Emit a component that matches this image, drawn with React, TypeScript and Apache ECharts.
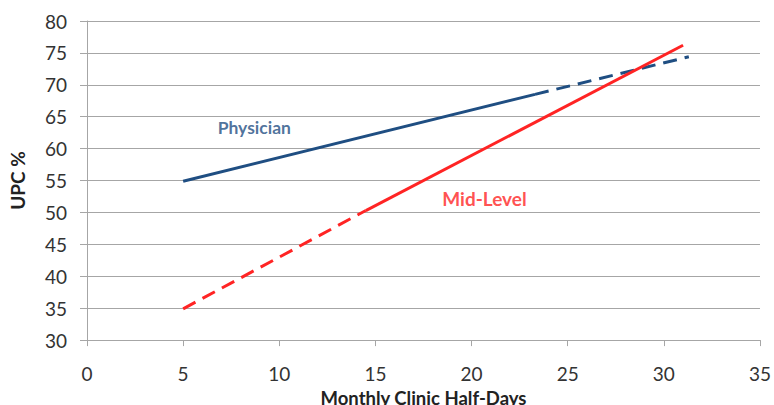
import React, { useEffect, useRef } from "react";
import * as echarts from "echarts";

// Monthly clinic half-days (x) vs UPC % (y)
const physicianSolidX = [5, 23.3];
const physicianSolidY = [54.9, 68.5];
const physicianDashX = [23.3, 31.3];
const physicianDashY = [68.5, 74.4];

const midLevelDashX = [5, 14.5];
const midLevelDashY = [34.9, 50.3];
const midLevelSolidX = [14.5, 31];
const midLevelSolidY = [50.3, 76.2];

const labelNames = ["Physician", "Mid-Level"];
const labelX = [8.7, 20.67];
const labelY = [63.3, 52.2];

const BLUE = "#1F4E82";
const RED = "#FF2424";
const FONT = "Lato, 'Open Sans', sans-serif";

const pairs = (xs: number[], ys: number[]) => xs.map((x, i) => [x, ys[i]]);

export default function App() {
  const ref = useRef<HTMLDivElement>(null);

  useEffect(() => {
    if (!ref.current) return;
    const chart = echarts.init(ref.current, undefined, { renderer: "svg" });

    const lineSeries = (data: number[][], color: string, dashed: boolean) => ({
      type: "line",
      data,
      symbol: "none",
      silent: true,
      lineStyle: { color, width: 3, type: dashed ? [14, 8] : "solid", cap: "butt" },
    });

    chart.setOption({
      animation: false,
      grid: { left: 86, right: 9, top: 21, bottom: 68 },
      xAxis: {
        type: "value",
        min: 0,
        max: 35,
        interval: 5,
        name: "Monthly Clinic Half-Days",
        nameLocation: "middle",
        nameGap: 42,
        nameTextStyle: { fontFamily: FONT, fontWeight: "bold", fontSize: 18.5, color: "#222" },
        axisLine: { show: true, lineStyle: { color: "#A6A6A6", width: 1 } },
        axisTick: { show: true, length: 6, lineStyle: { color: "#A6A6A6" } },
        axisLabel: { margin: 24, fontFamily: FONT, fontSize: 19, color: "#333" },
        splitLine: { show: false },
      },
      yAxis: {
        type: "value",
        min: 30,
        max: 80,
        interval: 5,
        name: "UPC %",
        nameLocation: "middle",
        nameGap: 60,
        nameTextStyle: { fontFamily: FONT, fontWeight: "bold", fontSize: 19, color: "#222" },
        axisLine: { show: true, lineStyle: { color: "#A6A6A6", width: 1 } },
        axisTick: { show: true, length: 7, lineStyle: { color: "#A6A6A6" } },
        axisLabel: { margin: 20, fontFamily: FONT, fontSize: 19, color: "#333" },
        splitLine: { show: true, lineStyle: { color: "#A6A6A6", width: 1 } },
      },
      series: [
        lineSeries(pairs(physicianSolidX, physicianSolidY), BLUE, false),
        lineSeries(pairs(physicianDashX, physicianDashY), BLUE, true),
        lineSeries(pairs(midLevelDashX, midLevelDashY), RED, true),
        lineSeries(pairs(midLevelSolidX, midLevelSolidY), RED, false),
        {
          type: "scatter",
          symbolSize: 0,
          silent: true,
          data: labelNames.map((n, i) => ({
            value: [labelX[i], labelY[i]],
            name: n,
            label: {
              show: true,
              position: "inside",
              formatter: n,
              fontFamily: FONT,
              fontWeight: "bold",
              fontSize: i === 0 ? 17.5 : 19,
              color: i === 0 ? BLUE : RED,
            },
          })),
        },
      ],
    });

    return () => chart.dispose();
  }, []);

  return (
    <div
      ref={ref}
      style={{ position: "fixed", left: 0, top: 0, width: 774, height: 412, background: "#fff" }}
    />
  );
}
